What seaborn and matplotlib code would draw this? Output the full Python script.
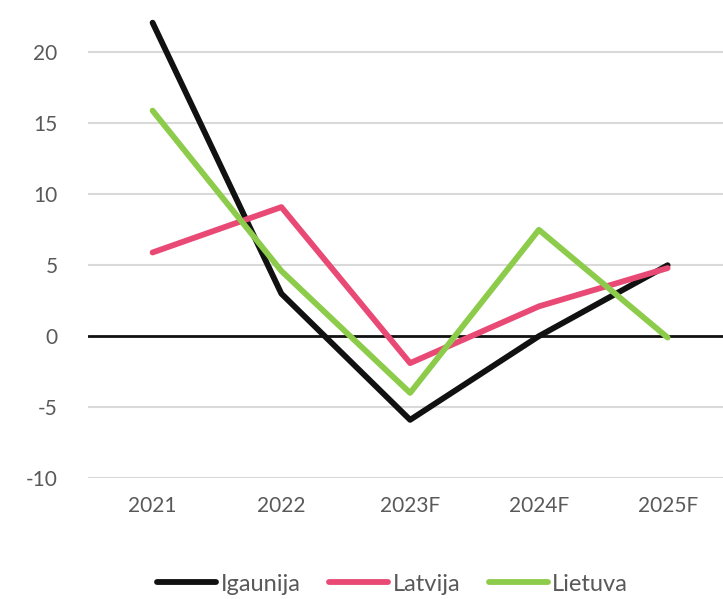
import seaborn as sns
import matplotlib.pyplot as plt
import pandas as pd

years = ["2021", "2022", "2023F", "2024F", "2025F"]
igaunija = [22.1, 3.0, -5.9, 0.0, 5.0]
latvija = [5.9, 9.1, -1.9, 2.1, 4.8]
lietuva = [15.9, 4.6, -4.0, 7.5, -0.1]

df = pd.DataFrame({"Gads": years, "Igaunija": igaunija, "Latvija": latvija, "Lietuva": lietuva})
df_long = df.melt(id_vars="Gads", var_name="Valsts", value_name="Vertiba")

sns.set_style("white")
plt.rcParams["font.family"] = ["Lato", "DejaVu Sans"]
plt.rcParams["axes.unicode_minus"] = False

palette = {"Igaunija": "#111111", "Latvija": "#E94A75", "Lietuva": "#8DCB4B"}

fig = plt.figure(figsize=(7.23, 5.99), dpi=100)
ax = fig.add_axes([0.122, 0.202, 0.878, 0.798])

# gridlines, zero line darker
for y in range(-10, 25, 5):
    if y != 0:
        ax.axhline(y, color="#D9D9D9", lw=1.5, zorder=0)
ax.axhline(0, color="#111111", lw=2, zorder=1)

sns.lineplot(data=df_long, x="Gads", y="Vertiba", hue="Valsts", palette=palette,
             linewidth=4.2, ax=ax, sort=False, zorder=3)

ax.set_ylim(-10, 23.7)
ax.set_xlim(-0.5, 4.43)
ax.set_yticks(range(-10, 25, 5))
ax.set_xlabel("")
ax.set_ylabel("")
for s in ax.spines.values():
    s.set_visible(False)
ax.tick_params(axis="both", length=0, labelsize=15, labelcolor="#595959")
ax.tick_params(axis="x", pad=13)
ax.tick_params(axis="y", pad=22)

handles, labels = ax.get_legend_handles_labels()
ax.legend(handles, labels, loc="center", bbox_to_anchor=(0.543, 0.025), bbox_transform=fig.transFigure,
          ncol=3, frameon=False, fontsize=17, handlelength=2.5, handletextpad=0.2,
          columnspacing=1.2, labelcolor="#595959", borderpad=0)

fig.savefig("out.png", dpi=100)
